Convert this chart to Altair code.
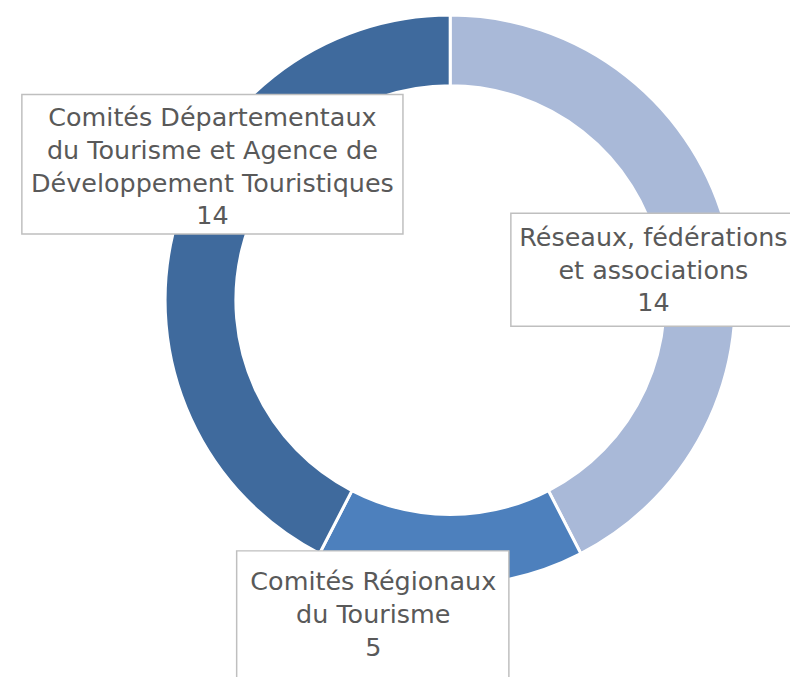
import altair as alt
import pandas as pd

# ---- data ----
categories = [
    "Réseaux, fédérations\net associations",
    "Comités Régionaux\ndu Tourisme",
    "Comités Départementaux\ndu Tourisme et Agence de\nDéveloppement Touristiques",
]
values = [14, 5, 14]
order = [0, 1, 2]
colors = ["#A9B9D8", "#4D80BD", "#3F6A9D"]

df = pd.DataFrame({"cat": categories, "value": values, "ord": order})

# ---- layout (plot-area pixels) ----
W, H = 790, 669
CX, CY = 446.7, 291.7
R_IN, R_OUT = 216.5, 288
FONT = "DejaVu Sans"
FS = 25.7
LH = 33
TXT = "#595959"
# box: x, x2, y, y2 ; text: center x, first baseline y
label_layout = {
    categories[0]: dict(box=(508, 812, 204, 318), tx=652, ty=237),
    categories[1]: dict(box=(231, 506, 545, 690), tx=369, ty=585),
    categories[2]: dict(box=(14, 399, 84, 225), tx=206.5, ty=116),
}

base = alt.Chart(df)

donut = base.mark_arc(
    innerRadius=R_IN, outerRadius=R_OUT, stroke="white", strokeWidth=3
).encode(
    theta=alt.Theta("value:Q", stack=True),
    order=alt.Order("ord:Q"),
    color=alt.Color("cat:N", scale=alt.Scale(domain=categories, range=colors), legend=None),
    x=alt.value(CX),
    y=alt.value(CY),
)

layers = [donut]
for cat in categories:
    lay = label_layout[cat]
    x1, x2, y1, y2 = lay["box"]
    sub = base.transform_filter(alt.datum.cat == cat)
    box = sub.mark_rect(fill="white", stroke="#BFBFBF", strokeWidth=1.5).encode(
        x=alt.value(x1), x2=alt.value(x2), y=alt.value(y1), y2=alt.value(y2)
    )
    txt = sub.transform_calculate(
        label="datum.cat + '\\n' + datum.value"
    ).mark_text(
        font=FONT, fontSize=FS, color=TXT, align="center", baseline="alphabetic",
        lineBreak="\n", lineHeight=LH,
    ).encode(text="label:N", x=alt.value(lay["tx"]), y=alt.value(lay["ty"]))
    layers += [box, txt]

chart = alt.layer(*layers).properties(
    width=W, height=H, autosize=alt.AutoSizeParams(type="none"), padding=0
).configure_view(stroke=None)

chart.save("out.html", embed_options={"renderer": "svg", "actions": False})
